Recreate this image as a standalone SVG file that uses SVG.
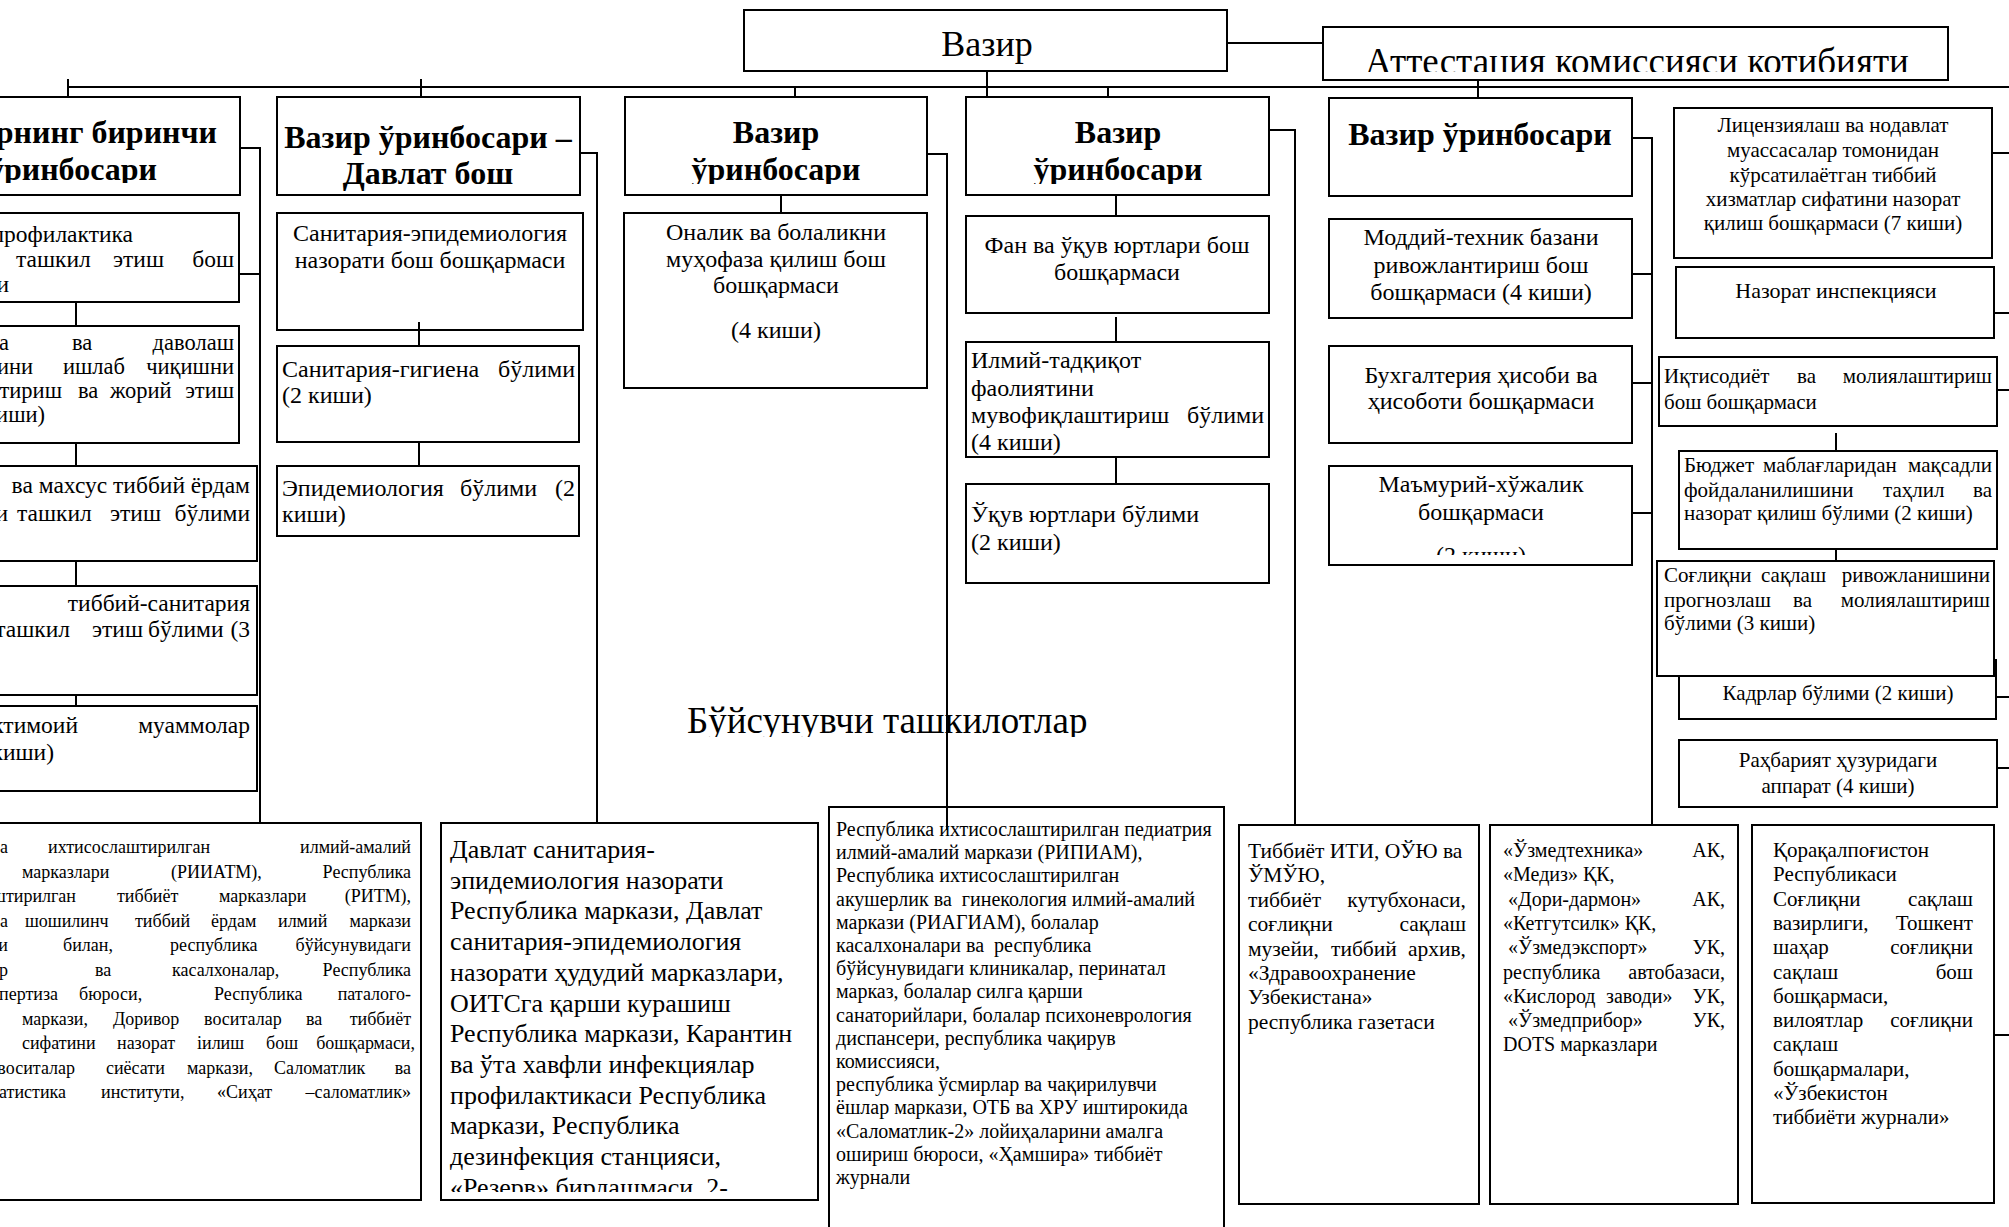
<svg xmlns="http://www.w3.org/2000/svg" width="2009" height="1227" viewBox="0 0 2009 1227">
<defs>
<style>
.bx{fill:#fff;stroke:#000;stroke-width:2}
.ln{fill:none;stroke:#000;stroke-width:2}
text{font-family:'Liberation Serif','Times New Roman',serif;fill:#000}
.m{text-anchor:middle}.e{text-anchor:end}
.h{font-size:32px;font-weight:bold}
.f24{font-size:24px}.f235{font-size:23.5px}.f225{font-size:22.5px}.f21{font-size:21px}.f20{font-size:20px}.f26{font-size:26px}.f18{font-size:18px}.f215{font-size:21.5px}
</style>
<clipPath id="cA"><rect x="0" y="97" width="240" height="86"/></clipPath>
<clipPath id="cC"><rect x="625" y="97" width="302" height="87"/></clipPath>
<clipPath id="cD"><rect x="966" y="97" width="303" height="87"/></clipPath>
<clipPath id="cAt"><rect x="1323" y="27" width="625" height="45"/></clipPath>
<clipPath id="cE3"><rect x="1329" y="466" width="303" height="89"/></clipPath>
<clipPath id="cBB2"><rect x="441" y="823" width="377" height="369"/></clipPath>
<clipPath id="cLbl"><rect x="600" y="690" width="600" height="47"/></clipPath>
</defs>
<rect width="2009" height="1227" fill="#fff"/>

<g id="vazir"><rect class="bx" x="744" y="10" width="483" height="61"/><text x="987" y="56" class="m" font-size="36">Вазир</text></g>
<g id="attestatsiya"><rect class="bx" x="1323" y="27" width="625" height="53"/><text x="1637" y="74" class="m" font-size="37" clip-path="url(#cAt)">Аттестация комиссияси котибияти</text></g>

<g id="dep1"><rect class="bx" x="-10" y="97" width="250" height="98"/><g clip-path="url(#cA)"><text x="217" y="143" class="h e">рнинг биринчи</text><text x="157" y="180" class="h e">ўринбосари</text></g></g>
<g id="dep2"><rect class="bx" x="277" y="97" width="303" height="98"/><text x="428" y="148" class="h m">Вазир ўринбосари –</text><text x="428" y="184" class="h m">Давлат бош</text></g>
<g id="dep3"><rect class="bx" x="625" y="97" width="302" height="98"/><g clip-path="url(#cC)"><text x="776" y="143" class="h m">Вазир</text><text x="776" y="180" class="h m">ўринбосари</text></g></g>
<g id="dep4"><rect class="bx" x="966" y="97" width="303" height="98"/><g clip-path="url(#cD)"><text x="1118" y="143" class="h m">Вазир</text><text x="1118" y="180" class="h m">ўринбосари</text></g></g>
<g id="dep5"><rect class="bx" x="1329" y="98" width="303" height="98"/><text x="1480" y="145" class="h m">Вазир ўринбосари</text></g>

<g id="a1" class="f235"><rect class="bx" x="-10" y="213" width="249" height="89"/>
<text x="133" y="242" class="e">профилактика</text>
<text x="16" y="267">ташкил</text><text x="113" y="267">этиш</text><text x="234" y="267" class="e">бош</text>
<text x="9" y="292" class="e">и</text></g>
<g id="a2" class="f225"><rect class="bx" x="-10" y="326" width="249" height="117"/>
<text x="9" y="350" class="e">а</text><text x="72" y="350">ва</text><text x="234" y="350" class="e">даволаш</text>
<text x="33" y="374" class="e">ини</text><text x="63" y="374">ишлаб</text><text x="234" y="374" class="e">чиқишни</text>
<text x="62" y="398" class="e">штириш</text><text x="78" y="398">ва</text><text x="110" y="398">жорий</text><text x="234" y="398" class="e">этиш</text>
<text x="45" y="422" class="e">киши)</text></g>
<g id="a3" class="f235"><rect class="bx" x="-10" y="466" width="267" height="95"/>
<text x="250" y="493" class="e">ва махсус тиббий ёрдам</text>
<text x="8" y="521" class="e">и</text><text x="17" y="521">ташкил</text><text x="110" y="521">этиш</text><text x="250" y="521" class="e">бўлими</text></g>
<g id="a4" class="f235"><rect class="bx" x="-10" y="586" width="267" height="109"/>
<text x="250" y="611" class="e">тиббий-санитария</text>
<text x="70" y="637" class="e">ташкил</text><text x="92" y="637">этиш</text><text x="148" y="637">бўлими</text><text x="250" y="637" class="e">(3</text></g>
<g id="a5" class="f235"><rect class="bx" x="-10" y="706" width="267" height="85"/>
<text x="78" y="733" class="e">ктимоий</text><text x="250" y="733" class="e">муаммолар</text>
<text x="54" y="760" class="e">киши)</text></g>

<g id="b1" class="f24"><rect class="bx" x="277" y="213" width="306" height="117"/>
<text x="430" y="241" class="m">Санитария-эпидемиология</text><text x="430" y="268" class="m">назорати бош бошқармаси</text></g>
<g id="b2" class="f24"><rect class="bx" x="277" y="346" width="302" height="96"/>
<text x="282" y="377">Санитария-гигиена</text><text x="575" y="377" class="e">бўлими</text><text x="282" y="403">(2 киши)</text></g>
<g id="b3" class="f24"><rect class="bx" x="277" y="466" width="302" height="70"/>
<text x="282" y="496">Эпидемиология</text><text x="460" y="496">бўлими</text><text x="575" y="496" class="e">(2</text><text x="282" y="522">киши)</text></g>

<g id="c1" class="f24"><rect class="bx" x="624" y="213" width="303" height="175"/>
<text x="776" y="240" class="m">Оналик ва болаликни</text><text x="776" y="267" class="m">муҳофаза қилиш бош</text><text x="776" y="293" class="m">бошқармаси</text><text x="776" y="338" class="m">(4 киши)</text></g>

<g id="d1" class="f24"><rect class="bx" x="966" y="216" width="303" height="97"/>
<text x="1117" y="253" class="m">Фан ва ўқув юртлари бош</text><text x="1117" y="280" class="m">бошқармаси</text></g>
<g id="d2" class="f24"><rect class="bx" x="966" y="342" width="303" height="115"/>
<text x="971" y="368">Илмий-тадқиқот</text><text x="971" y="396">фаолиятини</text><text x="971" y="423">мувофиқлаштириш</text><text x="1264" y="423" class="e">бўлими</text><text x="971" y="450">(4 киши)</text></g>
<g id="d3" class="f24"><rect class="bx" x="966" y="484" width="303" height="99"/>
<text x="971" y="522">Ўқув юртлари бўлими</text><text x="971" y="550">(2 киши)</text></g>

<g id="e1" class="f24"><rect class="bx" x="1329" y="219" width="303" height="99"/>
<text x="1481" y="245" class="m">Моддий-техник базани</text><text x="1481" y="273" class="m">ривожлантириш бош</text><text x="1481" y="300" class="m">бошқармаси (4 киши)</text></g>
<g id="e2" class="f24"><rect class="bx" x="1329" y="346" width="303" height="97"/>
<text x="1481" y="383" class="m">Бухгалтерия ҳисоби ва</text><text x="1481" y="409" class="m">ҳисоботи бошқармаси</text></g>
<g id="e3" class="f24"><rect class="bx" x="1329" y="466" width="303" height="99"/>
<text x="1481" y="492" class="m">Маъмурий-хўжалик</text><text x="1481" y="520" class="m">бошқармаси</text><text x="1481" y="563" class="m" clip-path="url(#cE3)">(2 киши)</text></g>

<g id="r1" class="f21"><rect class="bx" x="1674" y="108" width="318" height="150"/>
<text x="1833" y="132" class="m">Лицензиялаш ва нодавлат</text><text x="1833" y="157" class="m">муассасалар томонидан</text><text x="1833" y="182" class="m">кўрсатилаётган тиббий</text><text x="1833" y="206" class="m">хизматлар сифатини назорат</text><text x="1833" y="230" class="m">қилиш бошқармаси (7 киши)</text></g>
<g id="r2"><rect class="bx" x="1676" y="267" width="318" height="71"/><text x="1836" y="298" class="m" font-size="22">Назорат инспекцияси</text></g>
<g id="r3" class="f21"><rect class="bx" x="1659" y="357" width="338" height="69"/>
<text x="1664" y="383">Иқтисодиёт</text><text x="1797" y="383">ва</text><text x="1992" y="383" class="e">молиялаштириш</text><text x="1664" y="409">бош бошқармаси</text></g>
<g id="r4" class="f21"><rect class="bx" x="1679" y="451" width="318" height="98"/>
<text x="1684" y="472">Бюджет</text><text x="1763" y="472">маблағларидан</text><text x="1992" y="472" class="e">мақсадли</text>
<text x="1684" y="497">фойдаланилишини</text><text x="1883" y="497">таҳлил</text><text x="1992" y="497" class="e">ва</text>
<text x="1684" y="520">назорат қилиш бўлими (2 киши)</text></g>
<g id="r6" class="f21"><rect class="bx" x="1679" y="660" width="317" height="59"/><text x="1838" y="700" class="m">Кадрлар бўлими (2 киши)</text></g>
<g id="r5" class="f21"><rect class="bx" x="1657" y="561" width="337" height="115"/>
<text x="1664" y="582">Соғлиқни</text><text x="1761" y="582">сақлаш</text><text x="1990" y="582" class="e">ривожланишини</text>
<text x="1664" y="607">прогнозлаш</text><text x="1793" y="607">ва</text><text x="1990" y="607" class="e">молиялаштириш</text>
<text x="1664" y="630">бўлими (3 киши)</text></g>
<g id="r7" class="f21"><rect class="bx" x="1679" y="740" width="318" height="67"/>
<text x="1838" y="767" class="m">Раҳбарият ҳузуридаги</text><text x="1838" y="793" class="m">аппарат (4 киши)</text></g>

<g id="label"><text x="687" y="733" font-size="37" clip-path="url(#cLbl)">Бўйсунувчи ташкилотлар</text></g>

<g id="bb1" class="f18"><rect class="bx" x="-10" y="823" width="431" height="377"/>
<text x="8" y="853" class="e">а</text><text x="48" y="853">ихтисослаштирилган</text><text x="411" y="853" class="e">илмий-амалий</text>
<text x="22" y="877.5">марказлари</text><text x="171" y="877.5">(РИИАТМ),</text><text x="411" y="877.5" class="e">Республика</text>
<text x="76" y="902" class="e">штирилган</text><text x="117" y="902">тиббиёт</text><text x="219" y="902">марказлари</text><text x="411" y="902" class="e">(РИТМ),</text>
<text x="8" y="926.5" class="e">а</text><text x="25" y="926.5">шошилинч</text><text x="135" y="926.5">тиббий</text><text x="211" y="926.5">ёрдам</text><text x="278" y="926.5">илмий</text><text x="411" y="926.5" class="e">маркази</text>
<text x="8" y="951" class="e">и</text><text x="63" y="951">билан,</text><text x="170" y="951">республика</text><text x="411" y="951" class="e">бўйсунувидаги</text>
<text x="8" y="975.5" class="e">р</text><text x="95" y="975.5">ва</text><text x="172" y="975.5">касалхоналар,</text><text x="411" y="975.5" class="e">Республика</text>
<text x="58" y="1000" class="e">пертиза</text><text x="79" y="1000">бюроси,</text><text x="214" y="1000">Республика</text><text x="411" y="1000" class="e">паталого-</text>
<text x="22" y="1024.5">маркази,</text><text x="113" y="1024.5">Доривор</text><text x="204" y="1024.5">воситалар</text><text x="306" y="1024.5">ва</text><text x="411" y="1024.5" class="e">тиббиёт</text>
<text x="22" y="1049">сифатини</text><text x="117" y="1049">назорат</text><text x="197" y="1049">іилиш</text><text x="266" y="1049">бош</text><text x="415" y="1049" class="e">бошқармаси,</text>
<text x="75" y="1073.5" class="e">воситалар</text><text x="106" y="1073.5">сиёсати</text><text x="187" y="1073.5">маркази,</text><text x="274" y="1073.5">Саломатлик</text><text x="411" y="1073.5" class="e">ва</text>
<text x="66" y="1098" class="e">атистика</text><text x="101" y="1098">институти,</text><text x="217" y="1098">«Сиҳат</text><text x="411" y="1098" class="e">–саломатлик»</text></g>

<g id="bb2" class="f26"><rect class="bx" x="441" y="823" width="377" height="377"/>
<g clip-path="url(#cBB2)">
<text x="450" y="858">Давлат санитария-</text>
<text x="450" y="888.7">эпидемиология назорати</text>
<text x="450" y="919.4">Республика маркази, Давлат</text>
<text x="450" y="950.1">санитария-эпидемиология</text>
<text x="450" y="980.8">назорати ҳудудий марказлари,</text>
<text x="450" y="1011.5">ОИТСга қарши курашиш</text>
<text x="450" y="1042.2">Республика маркази, Карантин</text>
<text x="450" y="1072.9">ва ўта хавфли инфекциялар</text>
<text x="450" y="1103.6">профилактикаси Республика</text>
<text x="450" y="1134.3">маркази, Республика</text>
<text x="450" y="1165">дезинфекция станцияси,</text>
<text x="450" y="1195.7">«Резерв» бирлашмаси, 2-</text></g></g>

<g id="bb3" class="f20"><rect class="bx" x="829" y="807" width="395" height="430"/>
<text x="836" y="836">Республика ихтисослаштирилган педиатрия</text>
<text x="836" y="859.2">илмий-амалий маркази (РИПИАМ),</text>
<text x="836" y="882.4">Республика ихтисослаштирилган</text>
<text x="836" y="905.6" xml:space="preserve">акушерлик ва  гинекология илмий-амалий</text>
<text x="836" y="928.8">маркази (РИАГИАМ), болалар</text>
<text x="836" y="952" xml:space="preserve">касалхоналари ва  республика</text>
<text x="836" y="975.2">бўйсунувидаги клиникалар, перинатал</text>
<text x="836" y="998.4">марказ, болалар силга қарши</text>
<text x="836" y="1021.6">санаторийлари, болалар психоневрология</text>
<text x="836" y="1044.8">диспансери, республика чақирув</text>
<text x="836" y="1068">комиссияси,</text>
<text x="836" y="1091.2">республика ўсмирлар ва чақирилувчи</text>
<text x="836" y="1114.4">ёшлар маркази, ОТБ ва ХРУ иштирокида</text>
<text x="836" y="1137.6">«Саломатлик-2» лойиҳаларини амалга</text>
<text x="836" y="1160.8">ошириш бюроси, «Ҳамшира» тиббиёт</text>
<text x="836" y="1184">журнали</text></g>

<g id="bb4" class="f215"><rect class="bx" x="1239" y="825" width="240" height="379"/>
<text x="1248" y="858">Тиббиёт ИТИ, ОЎЮ ва</text>
<text x="1248" y="882.4">ЎМЎЮ,</text>
<text x="1248" y="906.8">тиббиёт</text><text x="1466" y="906.8" class="e">кутубхонаси,</text>
<text x="1248" y="931.2">соғлиқни</text><text x="1466" y="931.2" class="e">сақлаш</text>
<text x="1248" y="955.6">музейи,</text><text x="1331" y="955.6">тиббий</text><text x="1466" y="955.6" class="e">архив,</text>
<text x="1248" y="980">«Здравоохранение</text>
<text x="1248" y="1004.4">Узбекистана»</text>
<text x="1248" y="1028.8">республика газетаси</text></g>

<g id="bb5" class="f20"><rect class="bx" x="1490" y="825" width="248" height="379"/>
<text x="1503" y="857">«Ўзмедтехника»</text><text x="1725" y="857" class="e">АК,</text>
<text x="1503" y="881.3">«Медиз» ҚК,</text>
<text x="1508" y="905.6">«Дори-дармон»</text><text x="1725" y="905.6" class="e">АК,</text>
<text x="1503" y="929.9">«Кетгутсилк» ҚК,</text>
<text x="1508" y="954.2">«Ўзмедэкспорт»</text><text x="1725" y="954.2" class="e">УК,</text>
<text x="1503" y="978.5">республика</text><text x="1725" y="978.5" class="e">автобазаси,</text>
<text x="1503" y="1002.8">«Кислород</text><text x="1606" y="1002.8">заводи»</text><text x="1725" y="1002.8" class="e">УК,</text>
<text x="1508" y="1027.1">«Ўзмедприбор»</text><text x="1725" y="1027.1" class="e">УК,</text>
<text x="1503" y="1051.4">DOTS марказлари</text></g>

<g id="bb6" class="f21"><rect class="bx" x="1752" y="825" width="242" height="378"/>
<text x="1773" y="857">Қорақалпоғистон</text>
<text x="1773" y="881.3">Республикаси</text>
<text x="1773" y="905.6">Соғлиқни</text><text x="1973" y="905.6" class="e">сақлаш</text>
<text x="1773" y="929.9">вазирлиги,</text><text x="1973" y="929.9" class="e">Тошкент</text>
<text x="1773" y="954.2">шаҳар</text><text x="1973" y="954.2" class="e">соғлиқни</text>
<text x="1773" y="978.5">сақлаш</text><text x="1973" y="978.5" class="e">бош</text>
<text x="1773" y="1002.8">бошқармаси,</text>
<text x="1773" y="1027.1">вилоятлар</text><text x="1973" y="1027.1" class="e">соғлиқни</text>
<text x="1773" y="1051.4">сақлаш</text>
<text x="1773" y="1075.7">бошқармалари,</text>
<text x="1773" y="1100">«Ўзбекистон</text>
<text x="1773" y="1124.3">тиббиёти журнали»</text></g>

<g id="connectors" class="ln">
<path d="M68 87H2009"/>
<path d="M68 79V97M421 79V97M795 87V97M987 71V97M1108 87V97M1478 80V98"/>
<path d="M1227 43H1323"/>
<path d="M240 148H260V823M239 274H260"/>
<path d="M76 302V326M76 443V466M76 561V586M76 695V706"/>
<path d="M580 153H597V823"/>
<path d="M419 322V346M419 442V466"/>
<path d="M927 154H947V830"/>
<path d="M781 195V213"/>
<path d="M1269 130H1295V825"/>
<path d="M1116 195V216M1116 317V342M1116 457V484"/>
<path d="M1632 138H1652V825M1632 274H1652M1632 383H1652M1632 513H1652"/>
<path d="M1992 153H2009M1994 313H2009M1997 390H2009M1996 697H2009M1997 768H2009M1994 1035H2009"/>
<path d="M1836 433V451M1836 549V561"/>
</g>
</svg>
